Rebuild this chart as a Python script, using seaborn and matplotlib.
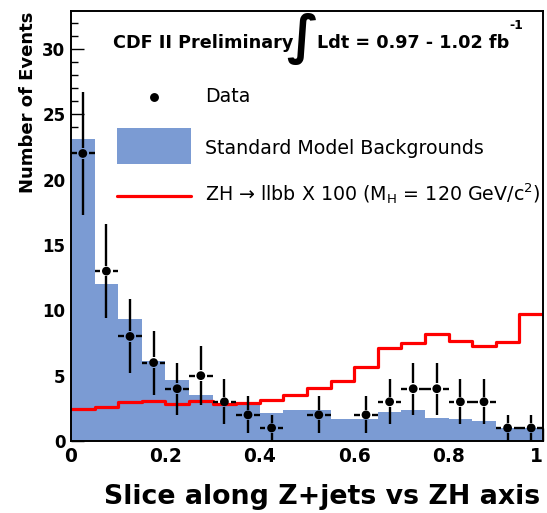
import numpy as np
import pandas as pd
import matplotlib
matplotlib.use("Agg")
import matplotlib.pyplot as plt
import seaborn as sns
from matplotlib.patches import Rectangle
from matplotlib.lines import Line2D
from matplotlib.ticker import MultipleLocator

# Binning of the discriminant slice
n_bins = 20
x_range = (0.0, 1.0)

# Expected Standard Model background per bin
background = [23.1, 12.0, 9.3, 6.1, 4.7, 3.5, 2.9, 2.9, 2.15, 2.35,
              2.35, 1.7, 1.7, 2.2, 2.35, 1.75, 1.7, 1.55, 0.97, 0.97]
# ZH -> llbb signal scaled by 100 (M_H = 120 GeV/c^2)
signal_x100 = [2.43, 2.62, 2.96, 3.06, 2.85, 3.06, 2.85, 2.91, 3.11, 3.54,
               4.05, 4.58, 5.66, 7.11, 7.47, 8.19, 7.68, 7.29, 7.60, 9.69]
# Observed events per bin
data_counts = [22, 13, 8, 6, 4, 5, 3, 2, 1, 0,
               2, 0, 2, 3, 4, 4, 3, 3, 1, 1]

x_ticks = [0, 0.2, 0.4, 0.6, 0.8, 1]
x_tick_labels = ["0", "0.2", "0.4", "0.6", "0.8", "1"]
y_ticks = [0, 5, 10, 15, 20, 25, 30]
y_tick_labels = ["0", "5", "10", "15", "20", "25", "30"]

BLUE = "#7b9bd3"
RED = "#ff0000"

sns.set_style("ticks")
plt.rcParams["font.family"] = ["DejaVu Sans"]
plt.rcParams["mathtext.default"] = "regular"
for key in ("text.color", "axes.labelcolor", "xtick.color", "ytick.color",
            "axes.edgecolor"):
    plt.rcParams[key] = "black"

edges = np.linspace(x_range[0], x_range[1], n_bins + 1)
centers = 0.5 * (edges[:-1] + edges[1:])
half_w = 0.5 * (edges[1] - edges[0])

df = pd.DataFrame({"x": centers, "bkg": background,
                   "sig": signal_x100, "obs": data_counts})

W, H = 547, 513
fig = plt.figure(figsize=(W / 100, H / 100), dpi=100)
ax_l, ax_r, ax_t, ax_b = 71, 543, 11, 441
ax = fig.add_axes([ax_l / W, 1 - ax_b / H, (ax_r - ax_l) / W, (ax_b - ax_t) / H])


def fx(px):
    return (px - ax_l) / (ax_r - ax_l)


def fy(py):
    return (ax_b - py) / (ax_b - ax_t)


# Background (filled) and scaled signal (outline) histograms
sns.histplot(data=df, x="x", weights="bkg", bins=n_bins, binrange=x_range,
             element="step", fill=True, color=BLUE, alpha=1, linewidth=0,
             ax=ax, zorder=1)
sns.histplot(data=df, x="x", weights="sig", bins=n_bins, binrange=x_range,
             element="step", fill=False, color=RED, linewidth=2.3,
             ax=ax, zorder=3)

# Observed data with Poisson errors and bin-width bars
obs = df[df["obs"] > 0].copy()
obs["err"] = np.sqrt(obs["obs"])
gap_x, gap_y = 0.013, 0.4
ax.hlines(obs["obs"], obs["x"] - half_w, obs["x"] - gap_x, color="black", lw=1.7, zorder=4)
ax.hlines(obs["obs"], obs["x"] + gap_x, obs["x"] + half_w, color="black", lw=1.7, zorder=4)
ax.vlines(obs["x"], obs["obs"] - obs["err"], obs["obs"] - gap_y, color="black", lw=1.7, zorder=4)
ax.vlines(obs["x"], obs["obs"] + gap_y, obs["obs"] + obs["err"], color="black", lw=1.7, zorder=4)
sns.scatterplot(data=obs, x="x", y="obs", color="black", s=40,
                edgecolor="none", ax=ax, zorder=5)

ax.set_xlim(*x_range)
ax.set_ylim(0, 32.9)
ax.set_xticks(x_ticks, x_tick_labels, fontsize=13.4, fontweight="bold")
ax.set_yticks(y_ticks, y_tick_labels, fontsize=12, fontweight="bold")
# the label at the right end sits flush with the frame
ax.get_xticklabels()[-1].set_horizontalalignment("right")
ax.yaxis.set_minor_locator(MultipleLocator(1))
ax.tick_params(axis="x", which="major", direction="in", length=9.4, width=1.0, pad=4)
ax.tick_params(axis="x", which="minor", bottom=False)
ax.tick_params(axis="y", which="major", direction="in", length=9.0, width=1.0, pad=4)
ax.tick_params(axis="y", which="minor", direction="in", length=5.0, width=1.0)
for sp in ax.spines.values():
    sp.set_visible(True)
    sp.set_linewidth(1.4)
    sp.set_color("black")
    sp.set_zorder(6)

ax.set_xlabel("Slice along Z+jets vs ZH axis", fontsize=19.3, fontweight="bold",
              ha="right", va="baseline")
ax.xaxis.set_label_coords(fx(540), fy(504))
ax.set_ylabel("Number of Events", fontsize=13, fontweight="bold",
              ha="right", va="baseline")
ax.yaxis.set_label_coords(fx(33), fy(12))

# Header
ax.text(fx(113), fy(48), "CDF II Preliminary", fontsize=12.7, fontweight="bold",
        va="baseline", ha="left", transform=ax.transAxes)
ax.text(fx(302), fy(53), "\u222b", fontsize=38, fontweight="bold",
        va="baseline", ha="center", transform=ax.transAxes)
lum = ax.text(fx(317), fy(48), "Ldt = 0.97 - 1.02 fb", fontsize=12.7,
              fontweight="bold", va="baseline", ha="left", transform=ax.transAxes)
ax.annotate("-1", xy=(1, fy(29)), xycoords=(lum, "axes fraction"),
            xytext=(0, 0), textcoords="offset points",
            fontsize=9, fontweight="bold", ha="left", va="baseline")

# Legend
ax.plot([fx(154)], [fy(97)], "o", color="black", ms=6.4, mec="none",
        transform=ax.transAxes, zorder=5)
ax.add_patch(Rectangle((fx(117), fy(164)), fx(191) - fx(117), fy(128) - fy(164),
                       transform=ax.transAxes, facecolor=BLUE, edgecolor="none", zorder=5))
ax.add_line(Line2D([fx(117), fx(191)], [fy(196), fy(196)], color=RED, lw=2.3,
                   transform=ax.transAxes, zorder=5))
leg_kw = dict(fontsize=13.7, va="baseline", ha="left", transform=ax.transAxes)
ax.text(fx(205), fy(102), "Data", **leg_kw)
ax.text(fx(205), fy(154), "Standard Model Backgrounds", **leg_kw)
ax.text(fx(205), fy(201),
        "ZH \u2192 llbb X 100 (M$_\\mathregular{H}$ = 120 GeV/c$^\\mathregular{2}$)",
        **leg_kw)

fig.savefig("out.png", dpi=100)
